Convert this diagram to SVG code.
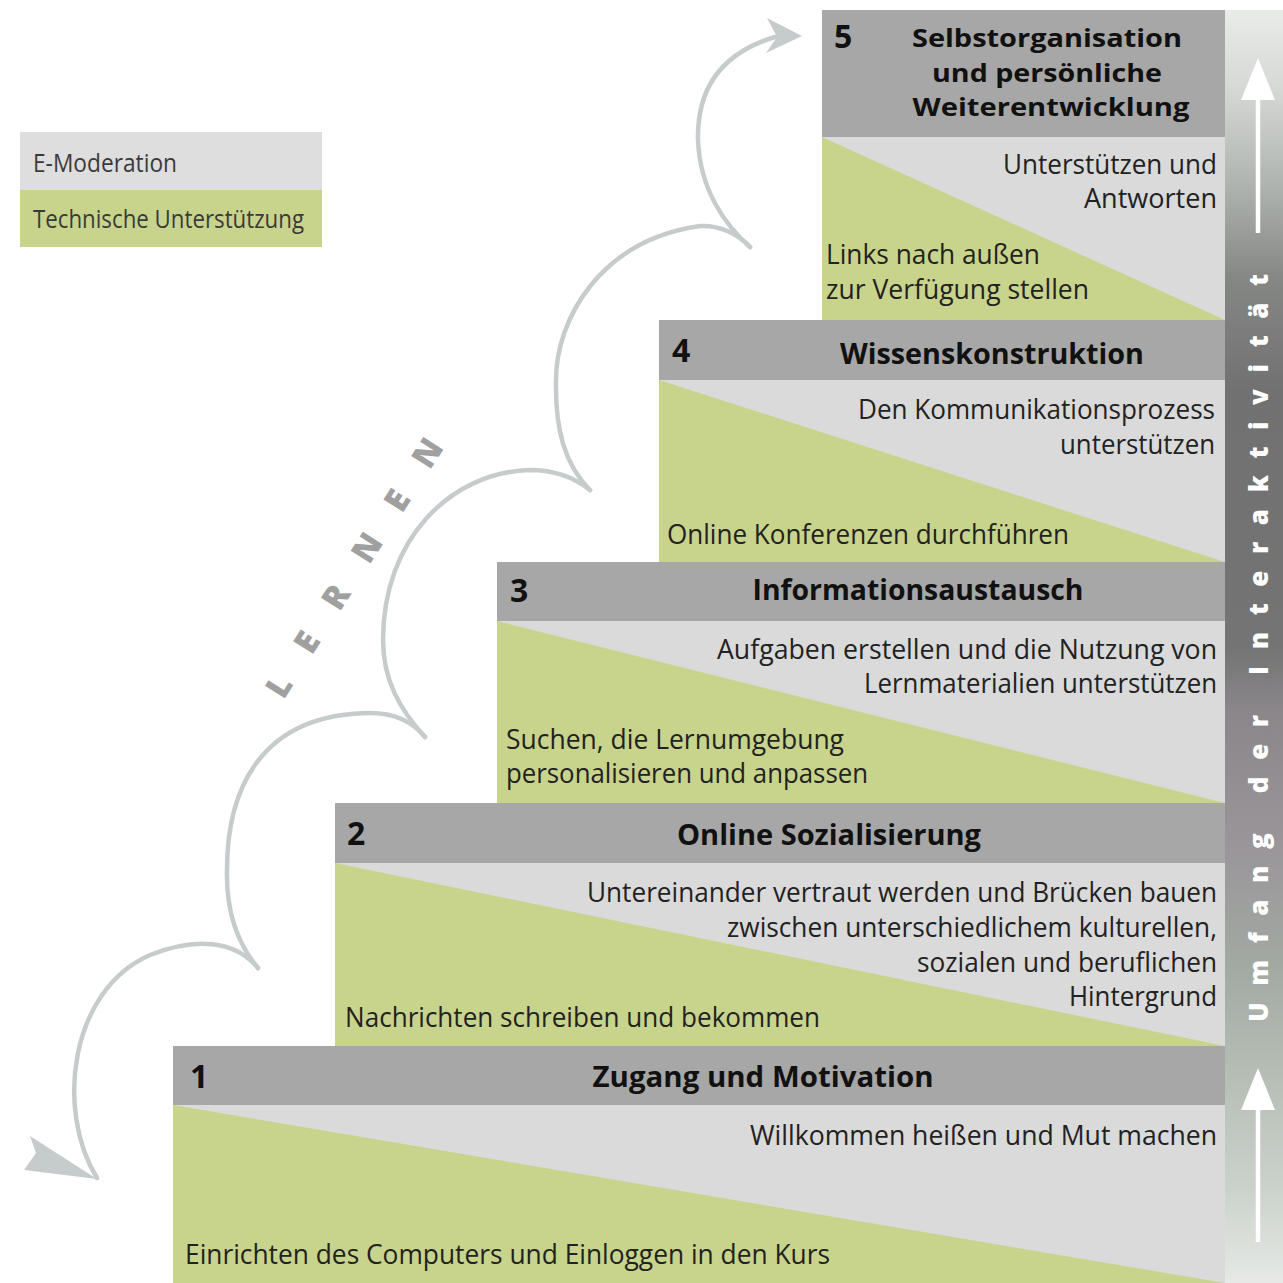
<svg xmlns="http://www.w3.org/2000/svg" width="1283" height="1283" viewBox="0 0 1283 1283">
<defs>
<linearGradient id="barGrad" x1="0" y1="0" x2="0" y2="1">
<stop offset="0" stop-color="#e8ebe8"/>
<stop offset="0.06" stop-color="#d6d9d6"/>
<stop offset="0.14" stop-color="#aeb2ae"/>
<stop offset="0.21" stop-color="#858785"/>
<stop offset="0.3" stop-color="#717171"/>
<stop offset="0.5" stop-color="#737473"/>
<stop offset="0.55" stop-color="#8a868a"/>
<stop offset="0.66" stop-color="#9a969a"/>
<stop offset="0.75" stop-color="#a2a9a2"/>
<stop offset="0.84" stop-color="#b6beb6"/>
<stop offset="0.93" stop-color="#ccd3cc"/>
<stop offset="1" stop-color="#e6e9e6"/>
</linearGradient>
</defs>
<style>
.hdr{fill:#a7a7a7}
.lt{fill:#dadada}
.gr{fill:#c8d48b}
.num{font-family:"Open Sans","Noto Sans",sans-serif;font-weight:bold;font-size:32px;fill:#111}
.ht{font-family:"Open Sans","Noto Sans",sans-serif;font-weight:bold;font-size:29px;fill:#111;text-anchor:middle}
.h5{font-size:25px}
.bt{font-family:"Open Sans","Noto Sans",sans-serif;font-size:27px;fill:#222}
.r{text-anchor:end}
.leg{font-family:"Open Sans","Noto Sans",sans-serif;font-size:25px;fill:#3a3a3a}
.arc{fill:none;stroke:#c6cccb;stroke-width:4.5;stroke-linecap:round}
.ah{fill:#c6cccb}
</style>
<rect width="1283" height="1283" fill="#ffffff"/>

<g id="legend">
<rect x="20" y="132" width="302" height="58" fill="#dedede"/>
<rect x="20" y="190" width="302" height="57" fill="#c8d48b"/>
<text class="leg" x="33" y="172" textLength="144" lengthAdjust="spacingAndGlyphs">E-Moderation</text>
<text class="leg" x="33" y="228" textLength="271" lengthAdjust="spacingAndGlyphs">Technische Unterstützung</text>
</g>

<g id="bar">
<rect x="1225" y="10" width="58" height="1273" fill="url(#barGrad)"/>
<line x1="1258" y1="95" x2="1258" y2="233" stroke="#ffffff" stroke-width="4.5"/>
<polygon points="1258,58 1275,100 1241,100" fill="#ffffff"/>
<line x1="1258" y1="1105" x2="1258" y2="1242" stroke="#ffffff" stroke-width="4.5"/>
<polygon points="1258,1068 1275,1110 1241,1110" fill="#ffffff"/>
<text x="0" y="0" transform="translate(1268,1022) rotate(-90)" font-family="'Open Sans','Noto Sans',sans-serif" font-weight="800" font-size="26" fill="#ffffff" textLength="748" lengthAdjust="spacing">Umfang der Interaktivität</text>
</g>

<g id="step1">
<rect class="lt" x="173" y="1105" width="1052" height="178"/>
<polygon class="gr" points="173,1105 1225,1283 173,1283"/>
<rect class="hdr" x="173" y="1046" width="1052" height="59"/>
<text class="num" x="190" y="1088">1</text>
<text class="ht" x="763" y="1087" textLength="341" lengthAdjust="spacingAndGlyphs">Zugang und Motivation</text>
<text class="bt r" x="1217" y="1145" textLength="467" lengthAdjust="spacingAndGlyphs">Willkommen heißen und Mut machen</text>
<text class="bt" x="185" y="1264" textLength="645" lengthAdjust="spacingAndGlyphs">Einrichten des Computers und Einloggen in den Kurs</text>
</g>

<g id="step2">
<rect class="lt" x="335" y="863" width="890" height="183"/>
<polygon class="gr" points="335,863 1225,1046 335,1046"/>
<rect class="hdr" x="335" y="803" width="890" height="60"/>
<text class="num" x="347" y="845">2</text>
<text class="ht" x="829" y="845" textLength="304" lengthAdjust="spacingAndGlyphs">Online Sozialisierung</text>
<text class="bt r" x="1217" y="902" textLength="630" lengthAdjust="spacingAndGlyphs">Untereinander vertraut werden und Brücken bauen</text>
<text class="bt r" x="1217" y="937" textLength="490" lengthAdjust="spacingAndGlyphs">zwischen unterschiedlichem kulturellen,</text>
<text class="bt r" x="1217" y="972" textLength="300" lengthAdjust="spacingAndGlyphs">sozialen und beruflichen</text>
<text class="bt r" x="1217" y="1006" textLength="148" lengthAdjust="spacingAndGlyphs">Hintergrund</text>
<text class="bt" x="345" y="1027" textLength="475" lengthAdjust="spacingAndGlyphs">Nachrichten schreiben und bekommen</text>
</g>

<g id="step3">
<rect class="lt" x="497" y="621" width="728" height="182"/>
<polygon class="gr" points="497,621 1225,803 497,803"/>
<rect class="hdr" x="497" y="562" width="728" height="59"/>
<text class="num" x="510" y="602">3</text>
<text class="ht" x="918" y="600" textLength="331" lengthAdjust="spacingAndGlyphs">Informationsaustausch</text>
<text class="bt r" x="1217" y="659" textLength="500" lengthAdjust="spacingAndGlyphs">Aufgaben erstellen und die Nutzung von</text>
<text class="bt r" x="1217" y="693" textLength="353" lengthAdjust="spacingAndGlyphs">Lernmaterialien unterstützen</text>
<text class="bt" x="506" y="749" textLength="338" lengthAdjust="spacingAndGlyphs">Suchen, die Lernumgebung</text>
<text class="bt" x="506" y="783" textLength="362" lengthAdjust="spacingAndGlyphs">personalisieren und anpassen</text>
</g>

<g id="step4">
<rect class="lt" x="659" y="380" width="566" height="182"/>
<polygon class="gr" points="659,380 1225,562 659,562"/>
<rect class="hdr" x="659" y="320" width="566" height="60"/>
<text class="num" x="672" y="362">4</text>
<text class="ht" x="992" y="364" textLength="304" lengthAdjust="spacingAndGlyphs">Wissenskonstruktion</text>
<text class="bt r" x="1215" y="419" textLength="357" lengthAdjust="spacingAndGlyphs">Den Kommunikationsprozess</text>
<text class="bt r" x="1215" y="454" textLength="155" lengthAdjust="spacingAndGlyphs">unterstützen</text>
<text class="bt" x="667" y="544" textLength="402" lengthAdjust="spacingAndGlyphs">Online Konferenzen durchführen</text>
</g>

<g id="step5">
<rect class="lt" x="822" y="137" width="403" height="183"/>
<polygon class="gr" points="822,137 1225,320 822,320"/>
<rect class="hdr" x="822" y="10" width="403" height="127"/>
<text class="num" x="834" y="48">5</text>
<text class="ht h5" x="1047" y="47" textLength="270" lengthAdjust="spacingAndGlyphs">Selbstorganisation</text>
<text class="ht h5" x="1047" y="82" textLength="230" lengthAdjust="spacingAndGlyphs">und persönliche</text>
<text class="ht h5" x="1051" y="116" textLength="277" lengthAdjust="spacingAndGlyphs">Weiterentwicklung</text>
<text class="bt r" x="1217" y="174" textLength="214" lengthAdjust="spacingAndGlyphs">Unterstützen und</text>
<text class="bt r" x="1217" y="208" textLength="133" lengthAdjust="spacingAndGlyphs">Antworten</text>
<text class="bt" x="826" y="264" textLength="214" lengthAdjust="spacingAndGlyphs">Links nach außen</text>
<text class="bt" x="826" y="299" textLength="263" lengthAdjust="spacingAndGlyphs">zur Verfügung stellen</text>
</g>

<g id="connectors">
<path class="arc" d="M97,1178 C55,1110 70,990 150,955 C195,937 235,940 258,968"/>
<path class="arc" d="M258,968 C237,943 226,912 227,870 C227,790 260,714 370,713 C395,713 413,722 425,737"/>
<path class="arc" d="M425,737 C400,710 383,680 383,640 C383,540 450,472 530,470 C555,470 575,478 590,490"/>
<path class="arc" d="M590,490 C565,465 555,430 556,380 C556,320 600,240 700,226 C720,225 738,234 750,247"/>
<path class="arc" d="M750,247 C725,225 700,190 698,140 C697,95 715,55 775,37"/>
<polygon class="ah" points="802,36 767,18 777,37 766,53"/>
<polygon class="ah" points="30,1136 72,1163 97,1179 24,1170 36,1153"/>
<text x="0" y="0" transform="translate(364,574) rotate(-57.5)" font-family="'Open Sans','Noto Sans',sans-serif" font-weight="800" font-size="33" fill="#a0a0a0" text-anchor="middle" textLength="300" lengthAdjust="spacing">LERNEN</text>
</g>
</svg>
